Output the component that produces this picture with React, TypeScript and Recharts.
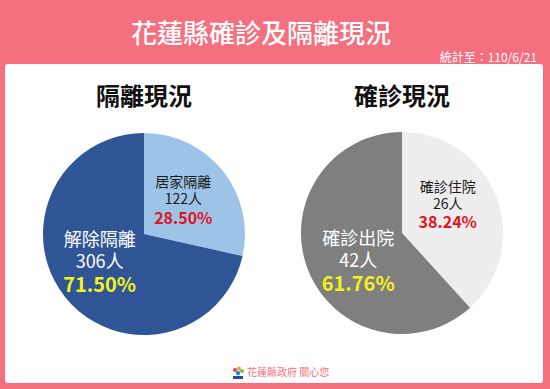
import React from "react";
import { PieChart, Pie, Cell } from "recharts";

const isoNames = ["居家隔離", "解除隔離"];
const isoCounts = [122, 306];
const isoPercents = ["28.50%", "71.50%"];

const confNames = ["確診住院", "確診出院"];
const confCounts = [26, 42];
const confPercents = ["38.24%", "61.76%"];

const isoData = isoNames.map((n, i) => ({ name: n, value: isoCounts[i], pct: isoPercents[i] }));
const confData = confNames.map((n, i) => ({ name: n, value: confCounts[i], pct: confPercents[i] }));

const FONT = "'Noto Sans CJK TC', 'Noto Sans', sans-serif";
const PINK = "#f56f7e";

const RAD = Math.PI / 180;

type LabelStyle = {
  dx: number[];
  dy: number[];
  nameColor: string[];
  pctColor: string[];
  size: number[];
  pctSize: number[];
};

const makeLabel = (st: LabelStyle) => (props: any) => {
  const { cx, cy, midAngle, outerRadius, index, payload } = props;
  const r = outerRadius * 0.55;
  const x = cx + r * Math.cos(-midAngle * RAD) + st.dx[index];
  const y = cy + r * Math.sin(-midAngle * RAD) + st.dy[index];
  const s = st.size[index];
  const ps = st.pctSize[index];
  const gap = s * 1.22;
  return (
    <g>
      <text x={x} y={y - gap} textAnchor="middle" dominantBaseline="central" fill={st.nameColor[index]} fontSize={s} fontFamily={FONT}>
        {payload.name}
      </text>
      <text x={x} y={y} textAnchor="middle" dominantBaseline="central" fill={st.nameColor[index]} fontSize={s} fontFamily={FONT}>
        {payload.value}人
      </text>
      <text x={x} y={y + gap + (ps - s) * 0.7} textAnchor="middle" dominantBaseline="central" fill={st.pctColor[index]} fontSize={ps} fontWeight="bold" fontFamily={FONT}>
        {payload.pct}
      </text>
    </g>
  );
};

const isoLabel = makeLabel({
  dx: [-4, -1],
  dy: [-1, -9],
  nameColor: ["#1a1a1a", "#ffffff"],
  pctColor: ["#e0141e", "#f2f21c"],
  size: [14, 18],
  pctSize: [16, 20],
});

const confLabel = makeLabel({
  dx: [-6, 8],
  dy: [-10, 6],
  nameColor: ["#1a1a1a", "#ffffff"],
  pctColor: ["#e0141e", "#f2f21c"],
  size: [14, 18],
  pctSize: [16, 20],
});

export default function App() {
  return (
    <div style={{ position: "absolute", left: 0, top: 0, width: 550, height: 389, background: PINK, fontFamily: FONT, overflow: "hidden" }}>
      <div style={{ position: "absolute", left: 5, top: 64, width: 538, height: 319, background: "#ffffff", borderRadius: 3 }} />
      <div style={{ position: "absolute", left: 0, top: 13, width: 522, textAlign: "center", color: "#fff", fontSize: 26, fontWeight: 500, lineHeight: "38px" }}>
        花蓮縣確診及隔離現況
      </div>
      <div style={{ position: "absolute", right: 13, top: 49, color: "#fff", fontSize: 12, lineHeight: "16px", whiteSpace: "nowrap" }}>
        統計至：110/6/21
      </div>
      <div style={{ position: "absolute", left: 44, top: 78, width: 200, textAlign: "center", color: "#111", fontSize: 24, fontWeight: 700, lineHeight: "34px" }}>
        隔離現況
      </div>
      <div style={{ position: "absolute", left: 302, top: 78, width: 200, textAlign: "center", color: "#111", fontSize: 24, fontWeight: 700, lineHeight: "34px" }}>
        確診現況
      </div>
      <div style={{ position: "absolute", left: 0, top: 0 }}>
        <PieChart width={550} height={389} margin={{ top: 0, right: 0, bottom: 0, left: 0 }}>
          <Pie
            data={isoData}
            dataKey="value"
            nameKey="name"
            cx={144}
            cy={234}
            outerRadius={101}
            startAngle={90}
            endAngle={-270}
            stroke="none"
            isAnimationActive={false}
            labelLine={false}
            label={isoLabel}
          >
            <Cell fill="#9dc3e6" />
            <Cell fill="#2f5597" />
          </Pie>
          <Pie
            data={confData}
            dataKey="value"
            nameKey="name"
            cx={402}
            cy={233}
            outerRadius={101}
            startAngle={90}
            endAngle={-270}
            stroke="none"
            isAnimationActive={false}
            labelLine={false}
            label={confLabel}
          >
            <Cell fill="#ededed" />
            <Cell fill="#7f7f7f" />
          </Pie>
        </PieChart>
      </div>
      <div style={{ position: "absolute", left: 232, top: 363, width: 12, height: 16 }}>
        <svg width={12} height={16}>
          <circle cx={3} cy={4} r={2} fill="#e8443a" />
          <circle cx={7} cy={2.5} r={2} fill="#f5a623" />
          <circle cx={10} cy={5} r={2} fill="#7ac143" />
          <circle cx={6} cy={7} r={2.2} fill="#1e88e5" />
          <rect x={1} y={10} width={10} height={3} fill="#1f4e9c" />
        </svg>
      </div>
      <div style={{ position: "absolute", left: 247, top: 365, color: PINK, fontSize: 10, lineHeight: "14px", whiteSpace: "nowrap" }}>
        花蓮縣政府 關心您
      </div>
    </div>
  );
}
